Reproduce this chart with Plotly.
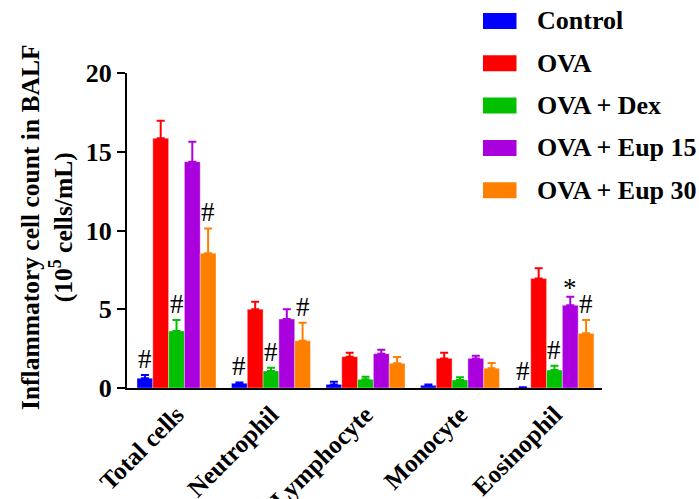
import plotly.graph_objects as go

categories = ["Total cells", "Neutrophil", "Lymphocyte", "Monocyte", "Eosinophil"]
series_names = ["Control", "OVA", "OVA + Dex", "OVA + Eup 15", "OVA + Eup 30"]
colors = ["#0000FF", "#FF0000", "#00C000", "#AA00DD", "#FF8000"]

control = [0.62, 0.30, 0.23, 0.17, 0.02]
ova = [15.85, 5.00, 1.99, 1.88, 6.96]
ova_dex = [3.62, 1.08, 0.55, 0.51, 1.14]
ova_eup15 = [14.37, 4.38, 2.18, 1.88, 5.25]
ova_eup30 = [8.55, 3.00, 1.57, 1.25, 3.47]

control_err = [0.20, 0.05, 0.17, 0.05, 0.03]
ova_err = [1.12, 0.48, 0.25, 0.36, 0.64]
ova_dex_err = [0.70, 0.21, 0.17, 0.17, 0.28]
ova_eup15_err = [1.27, 0.62, 0.25, 0.17, 0.55]
ova_eup30_err = [1.58, 1.15, 0.40, 0.34, 0.85]

control_marks = ["#", "#", "", "", "#"]
ova_marks = ["", "", "", "", ""]
ova_dex_marks = ["#", "#", "", "", "#"]
ova_eup15_marks = ["", "", "", "", "*"]
ova_eup30_marks = ["#", "#", "", "", "#"]

values = [control, ova, ova_dex, ova_eup15, ova_eup30]
errors = [control_err, ova_err, ova_dex_err, ova_eup15_err, ova_eup30_err]
marks = [control_marks, ova_marks, ova_dex_marks, ova_eup15_marks, ova_eup30_marks]

FONT = "Liberation Serif"
BARGAP = 0.164

fig = go.Figure()
for name, vals, errs, col in zip(series_names, values, errors, colors):
    fig.add_trace(go.Bar(
        x=categories, y=vals, name=name,
        marker=dict(color=col, line=dict(width=0.6, color="rgba(255,255,255,0.6)")),
        error_y=dict(type="data", symmetric=False, array=errs,
                     arrayminus=[0] * len(errs), color=col, thickness=2, width=4),
        showlegend=False,
    ))

# significance marks
n = len(series_names)
w = (1 - BARGAP) / n
annotations = []
for j in range(n):
    for i, m in enumerate(marks[j]):
        if not m:
            continue
        annotations.append(dict(
            x=i + (j - (n - 1) / 2) * w, y=values[j][i] + errors[j][i],
            xref="x", yref="y", text=m, showarrow=False,
            xanchor="center", yanchor="bottom", yshift=-1 if m == "#" else -8,
            font=dict(family=FONT, size=27, color="black"),
        ))

PL, PR, PT, PB = 127, 602, 73, 388
def px_x(p):
    return (p - PL) / (PR - PL)
def px_y(p):
    return (PB - p) / (PB - PT)

# y-axis title
annotations.append(dict(
    x=px_x(47), y=px_y(228), xref="paper", yref="paper", xanchor="center", yanchor="middle",
    text="<b>Inflammatory cell count in BALF</b><br><b>(10<sup>5</sup> cells/mL)</b>",
    textangle=-90, showarrow=False, font=dict(family=FONT, size=25.5, color="black"),
))

# legend (manual, with wide swatches)
shapes = []
for k, (name, col) in enumerate(zip(series_names, colors)):
    cy = 21 + k * 42.3
    shapes.append(dict(type="rect", xref="paper", yref="paper",
                       x0=px_x(483), x1=px_x(516.5), y0=px_y(cy - 8), y1=px_y(cy + 8),
                       fillcolor=col, line=dict(width=0)))
    annotations.append(dict(x=px_x(535), y=px_y(cy), xref="paper", yref="paper",
                            xanchor="left", yanchor="middle", showarrow=False,
                            text="<b>" + name + "</b>",
                            font=dict(family=FONT, size=26, color="black")))

fig.update_layout(
    width=699, height=499,
    margin=dict(l=PL, r=699 - PR, t=PT, b=499 - PB, autoexpand=False),
    plot_bgcolor="white", paper_bgcolor="white",
    barmode="group", bargap=BARGAP, bargroupgap=0,
    annotations=annotations, shapes=shapes,
    xaxis=dict(type="category", range=[-0.524, 4.503], showline=True, linecolor="black",
               linewidth=2, ticks="", tickangle=-45, showgrid=False, zeroline=False,
               automargin=False,
               tickfont=dict(family=FONT, size=25, color="black", weight="bold")),
    yaxis=dict(range=[0, 20], tickvals=[0, 5, 10, 15, 20], showline=True, linecolor="black",
               linewidth=2, ticks="outside", ticklen=8, tickwidth=2, tickcolor="black",
               showgrid=False, zeroline=False, automargin=False,
               tickfont=dict(family=FONT, size=26, color="black", weight="bold")),
)

fig.write_html(
    "out.html",
    config={"displayModeBar": False},
    post_script="document.body.style.margin='0';document.body.style.overflow='hidden';",
)
